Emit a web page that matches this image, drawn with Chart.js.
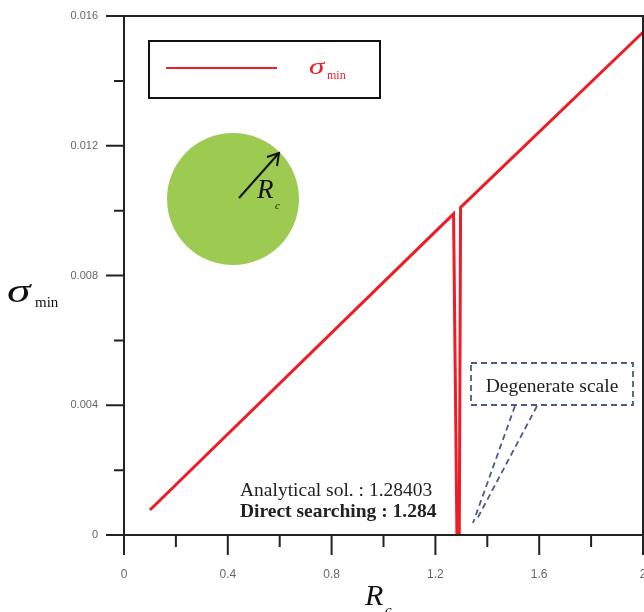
<!DOCTYPE html>
<html>
<head>
<meta charset="utf-8">
<script src="https://cdn.jsdelivr.net/npm/chart.js@4"></script>
<style>
  html, body { margin: 0; padding: 0; background: #fff; }
  canvas { display: block; }
</style>
</head>
<body>
<canvas id="c" width="644" height="612"></canvas>
<script>
// sigma_min against R_c. Drop to zero sits at the
// degenerate scale (~1.284).
const rc = [0.1, 1.27, 1.283, 1.292, 1.297, 2.0];
const sigmaMin = [0.00077, 0.0099, 0, 0, 0.0101, 0.0155];

const X_MIN = 0, X_MAX = 2, X_STEP = 0.2, X_MAJOR = 0.4;
const Y_MIN = 0, Y_MAX = 0.016, Y_STEP = 0.002, Y_MAJOR = 0.004;
const xLabels = ["0", "0.4", "0.8", "1.2", "1.6", "2"];
const yLabels = ["0", "0.004", "0.008", "0.012", "0.016"];

const RED = "#ee1c24";
const INK = "#222";
const SERIF = '"Liberation Serif", "DejaVu Serif", serif';

function isMajor(v, step) {
  const k = v / step;
  return Math.abs(k - Math.round(k)) < 1e-6;
}

// text squeezed/stretched horizontally (the figure's sigma is wider than ours)
function wideText(ctx, s, x, y, sx) {
  ctx.save();
  ctx.translate(x, y);
  ctx.scale(sx, 1);
  ctx.fillText(s, 0, 0);
  ctx.restore();
}

// axes frame, major/minor ticks, and the hand-drawn bits of the figure
const decor = {
  id: "decor",
  afterDraw(chart) {
    const { ctx, chartArea: a } = chart;
    const xs = chart.scales.x, ys = chart.scales.y;
    ctx.save();
    ctx.strokeStyle = INK;
    ctx.lineWidth = 2;
    ctx.lineCap = "butt";

    // frame
    ctx.beginPath();
    ctx.moveTo(a.left, a.bottom); ctx.lineTo(a.left, a.top);
    ctx.lineTo(a.right, a.top); ctx.lineTo(a.right, a.bottom);
    ctx.moveTo(a.left, a.bottom); ctx.lineTo(a.right, a.bottom);
    ctx.stroke();

    // ticks, outward
    ctx.beginPath();
    xs.ticks.forEach((t) => {
      const px = xs.getPixelForValue(t.value);
      const len = isMajor(t.value, X_MAJOR) ? 20 : 12;
      ctx.moveTo(px, a.bottom); ctx.lineTo(px, a.bottom + len);
    });
    ys.ticks.forEach((t) => {
      const py = ys.getPixelForValue(t.value);
      const len = isMajor(t.value, Y_MAJOR) ? 18 : 10;
      ctx.moveTo(a.left, py); ctx.lineTo(a.left - len, py);
    });
    ctx.stroke();

    // legend box
    ctx.lineWidth = 2;
    ctx.strokeStyle = "#111";
    ctx.strokeRect(149, 41, 231, 57);
    ctx.strokeStyle = RED;
    ctx.beginPath(); ctx.moveTo(166, 68); ctx.lineTo(277, 68); ctx.stroke();
    ctx.fillStyle = RED;
    ctx.textBaseline = "alphabetic";
    ctx.textAlign = "left";
    ctx.font = "italic 23px " + SERIF;
    wideText(ctx, "σ", 309, 74, 1.35);
    ctx.font = "12px " + SERIF;
    ctx.fillText("min", 327, 79);

    // circle with radius arrow
    ctx.fillStyle = "#9dca50";
    ctx.beginPath(); ctx.arc(233, 199, 66, 0, Math.PI * 2); ctx.fill();
    ctx.strokeStyle = "#111";
    ctx.lineWidth = 2;
    ctx.beginPath(); ctx.moveTo(239, 198); ctx.lineTo(279, 153); ctx.stroke();
    ctx.beginPath();
    ctx.moveTo(267, 157); ctx.lineTo(279, 153); ctx.lineTo(277, 166);
    ctx.stroke();
    ctx.fillStyle = "#111";
    ctx.font = "italic 27px " + SERIF;
    ctx.fillText("R", 257, 198);
    ctx.font = "italic 11px " + SERIF;
    ctx.fillText("c", 275, 209);

    // solution text
    ctx.fillStyle = "#222";
    ctx.font = "19.5px " + SERIF;
    ctx.fillText("Analytical sol. : 1.28403", 240, 496);
    ctx.font = "bold 19.5px " + SERIF;
    ctx.fillText("Direct searching : 1.284", 240, 517);

    // degenerate scale callout
    ctx.strokeStyle = "#4a5a8c";
    ctx.lineWidth = 1.8;
    ctx.setLineDash([6, 4]);
    ctx.strokeRect(471, 363, 162, 42);
    ctx.beginPath();
    ctx.moveTo(515, 406); ctx.lineTo(473, 523);
    ctx.moveTo(537, 406); ctx.lineTo(476, 521);
    ctx.stroke();
    ctx.setLineDash([]);
    ctx.fillStyle = "#222";
    ctx.textAlign = "center";
    ctx.font = "19.5px " + SERIF;
    ctx.fillText("Degenerate scale", 552, 392);

    // axis titles
    ctx.textAlign = "left";
    ctx.fillStyle = "#111";
    ctx.font = "italic 34px " + SERIF;
    wideText(ctx, "σ", 7, 302, 1.4);
    ctx.font = "15px " + SERIF;
    ctx.fillText("min", 35, 307);
    ctx.font = "italic 30px " + SERIF;
    ctx.fillText("R", 365, 605);
    ctx.font = "italic 15px " + SERIF;
    ctx.fillText("c", 385, 615);
    ctx.restore();
  },
};

new Chart(document.getElementById("c"), {
  type: "line",
  data: {
    datasets: [{
      data: rc.map((x, i) => ({ x: x, y: sigmaMin[i] })),
      borderColor: RED,
      borderWidth: 3,
      pointRadius: 0,
      tension: 0,
      fill: false,
    }],
  },
  options: {
    responsive: false,
    devicePixelRatio: 1,
    animation: false,
    layout: { padding: { top: 16, right: 1, left: 0, bottom: 0 } },
    plugins: { legend: { display: false }, tooltip: { enabled: false } },
    scales: {
      x: {
        type: "linear", min: X_MIN, max: X_MAX,
        afterFit: (s) => { s.height = 77; s.paddingLeft = 0; s.paddingRight = 0; },
        border: { display: false },
        grid: { display: false, drawTicks: false },
        ticks: {
          stepSize: X_STEP, autoSkip: false, maxRotation: 0, padding: 32,
          color: "#666", font: { family: '"Liberation Sans", Arial, sans-serif', size: 12 },
          callback: (v) => isMajor(v, X_MAJOR) ? xLabels[Math.round(v / X_MAJOR)] : "",
        },
      },
      y: {
        type: "linear", min: Y_MIN, max: Y_MAX,
        afterFit: (s) => { s.width = 124; s.paddingTop = 0; s.paddingBottom = 0; },
        border: { display: false },
        grid: { display: false, drawTicks: false },
        ticks: {
          stepSize: Y_STEP, autoSkip: false, padding: 26,
          color: "#666", font: { family: '"Liberation Sans", Arial, sans-serif', size: 11 },
          callback: (v) => isMajor(v, Y_MAJOR) ? yLabels[Math.round(v / Y_MAJOR)] : "",
        },
      },
    },
  },
  plugins: [decor],
});
</script>
</body>
</html>
